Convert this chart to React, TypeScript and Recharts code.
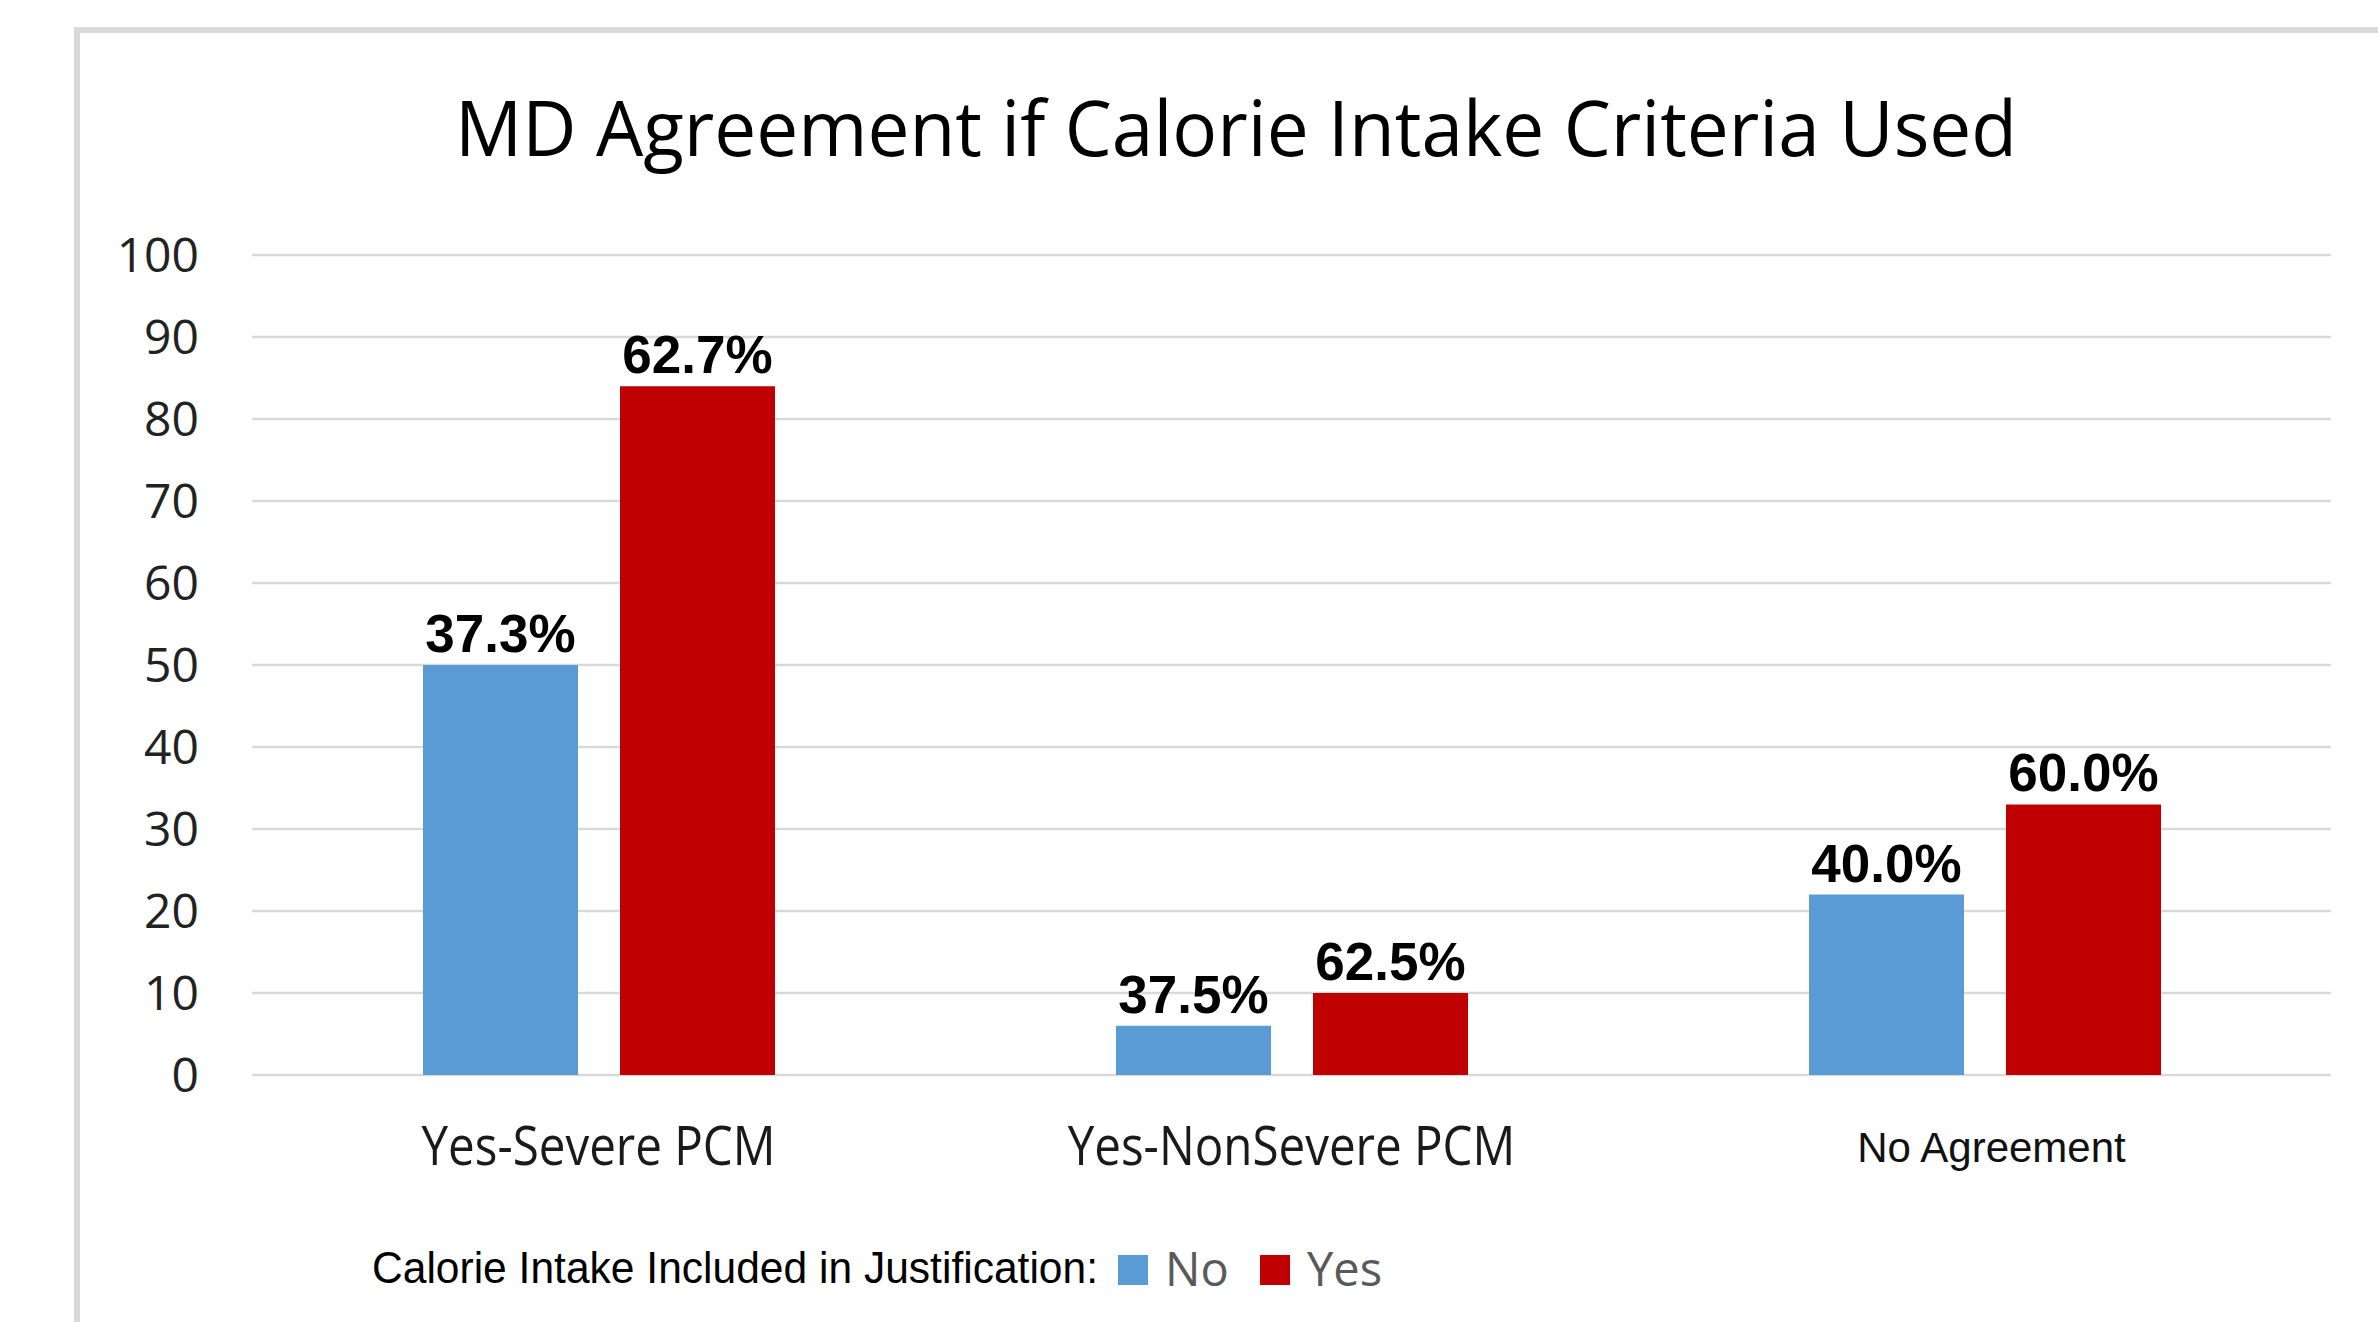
import React from 'react';
import { BarChart, Bar, XAxis, YAxis, CartesianGrid, LabelList } from 'recharts';

// categories and values
const categories = ['Yes-Severe PCM', 'Yes-NonSevere PCM', 'No Agreement'];
const noValues = [50, 6, 22];
const yesValues = [84, 10, 33];
const noLabels = ['37.3%', '37.5%', '40.0%'];
const yesLabels = ['62.7%', '62.5%', '60.0%'];
const yTicks = [0, 10, 20, 30, 40, 50, 60, 70, 80, 90, 100];

const series = [
  { key: 'no', labelKey: 'noLabel', name: 'No', color: '#5B9BD5' },
  { key: 'yes', labelKey: 'yesLabel', name: 'Yes', color: '#C00000' },
];

const chartData = categories.map((name, i) => ({
  name,
  no: noValues[i],
  yes: yesValues[i],
  noLabel: noLabels[i],
  yesLabel: yesLabels[i],
}));

const W = 2378;
const H = 1322;

const CategoryTick = (props: any) => {
  const { x, y, payload } = props;
  const plain = payload.value === 'No Agreement';
  if (plain) {
    return (
      <text x={x + 7} y={y + 87} textAnchor="middle" fontFamily="'Liberation Sans', Arial, sans-serif" fontSize={42} fill="#111">
        {payload.value}
      </text>
    );
  }
  return (
    <g transform={`translate(${x},${y + 90})`}>
      <text transform="scale(0.88,1)" textAnchor="middle" fontFamily="'Open Sans', sans-serif" fontSize={54} fill="#1a1a1a">
        {payload.value}
      </text>
    </g>
  );
};

export default function App() {
  return (
    <div style={{ position: 'absolute', left: 0, top: 0, width: W, height: H, overflow: 'hidden', background: '#fff' }}>
      {/* chart frame, runs off the right and bottom edges */}
      <div
        style={{
          position: 'absolute',
          left: 74,
          top: 27,
          width: W,
          height: H,
          border: '6px solid #d9d9d9',
        }}
      />
      <div style={{ position: 'absolute', left: 0, top: 0 }}>
        <BarChart
          width={W}
          height={H}
          data={chartData}
          margin={{ top: 255, right: 47, bottom: 0, left: 0 }}
          barSize={155}
          barGap={42}
        >
          <CartesianGrid vertical={false} stroke="#d9d9d9" strokeWidth={2.5} />
          <XAxis
            dataKey="name"
            height={247}
            axisLine={false}
            tickLine={false}
            tickSize={0}
            tickMargin={0}
            interval={0}
            tick={<CategoryTick />}
          />
          <YAxis
            width={252}
            domain={[0, 100]}
            ticks={yTicks}
            axisLine={false}
            tickLine={false}
            tickSize={0}
            tickMargin={53}
            tick={{ fontFamily: "'Open Sans', sans-serif", fontSize: 48, fill: '#222' }}
          />
          {series.map((s) => (
            <Bar key={s.key} dataKey={s.key} name={s.name} fill={s.color} isAnimationActive={false}>
              <LabelList
                dataKey={s.labelKey}
                position="top"
                offset={13}
                fill="#000"
                fontFamily="'Liberation Sans', Arial, sans-serif"
                fontWeight="bold"
                fontSize={53}
              />
            </Bar>
          ))}
        </BarChart>
      </div>
      <svg width={W} height={H} style={{ position: 'absolute', left: 0, top: 0, pointerEvents: 'none' }}>
        <text
          x={1236}
          y={156}
          textAnchor="middle"
          fontFamily="'Open Sans', sans-serif"
          fontSize={76}
          fill="#000"
          textLength={1562}
          lengthAdjust="spacingAndGlyphs"
        >
          MD Agreement if Calorie Intake Criteria Used
        </text>
        {/* legend */}
        <text x={372} y={1283} fontFamily="'Liberation Sans', Arial, sans-serif" fontSize={44} fill="#000" textLength={726} lengthAdjust="spacingAndGlyphs">
          Calorie Intake Included in Justification:
        </text>
        {series.map((s, i) => (
          <g key={s.key} transform={`translate(${1118 + i * 142},0)`}>
            <rect x={0} y={1255} width={30} height={30} fill={s.color} />
            <text x={47} y={1286} fontFamily="'Open Sans', sans-serif" fontSize={47} fill="#595959">
              {s.name}
            </text>
          </g>
        ))}
      </svg>
    </div>
  );
}
